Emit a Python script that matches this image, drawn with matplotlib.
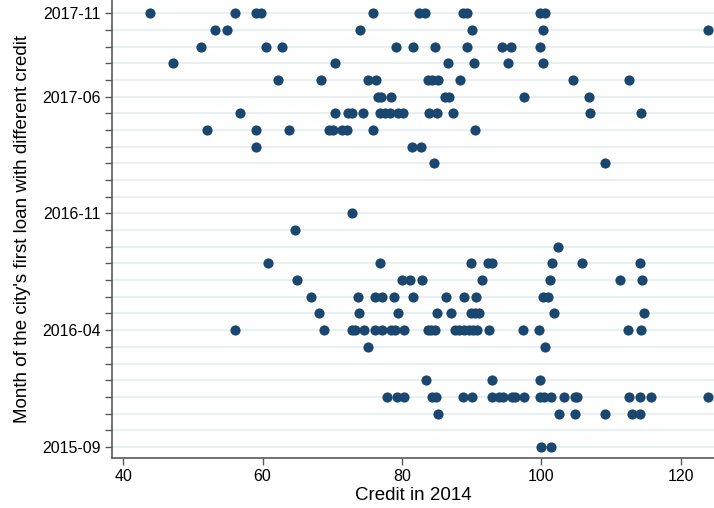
import numpy as np
import pandas as pd
import matplotlib
matplotlib.use("Agg")
import matplotlib.pyplot as plt

plt.rcParams['font.family'] = ['Liberation Sans', 'DejaVu Sans']

months = pd.period_range("2015-09", "2017-11", freq="M").strftime("%Y-%m").tolist()
labelled = ["2015-09", "2016-04", "2016-11", "2017-06", "2017-11"]

# credit in 2014, one list per month of the city's first loan
c_2015_09 = [100.0, 101.4]
c_2015_10 = []
c_2015_11 = [85.2, 102.5, 104.8, 109.1, 113.1, 114.2]
c_2015_12 = [77.8, 79.3, 80.3, 84.3, 84.9, 88.8, 90.0, 92.9, 93.9, 94.5, 95.8, 96.3,
             97.5, 99.8, 100.4, 101.4, 103.2, 104.8, 105.2, 112.6, 114.2, 115.7, 123.9]
c_2016_01 = [83.4, 93.0, 99.8]
c_2016_02 = []
c_2016_03 = [75.1, 100.5]
c_2016_04 = [56.1, 68.8, 72.8, 73.3, 74.6, 76.1, 77.1, 78.5, 79.0, 80.3, 83.7, 84.2,
             84.8, 87.6, 88.2, 88.9, 89.6, 90.2, 90.8, 92.5, 97.4, 99.7, 112.5, 114.3]
c_2016_05 = [68.1, 73.8, 79.4, 85.0, 87.0, 89.9, 90.5, 91.0, 101.9, 114.7]
c_2016_06 = [66.9, 73.7, 76.2, 77.2, 78.9, 81.6, 86.3, 88.9, 90.7, 100.3, 101.0]
c_2016_07 = [65.0, 80.0, 81.1, 82.9, 91.5, 101.3, 111.3, 114.5]
c_2016_08 = [60.8, 76.8, 89.9, 92.4, 92.9, 101.5, 105.9, 114.2]
c_2016_09 = [102.4]
c_2016_10 = [64.6]
c_2016_11 = [72.8]
c_2016_12 = []
c_2017_01 = []
c_2017_02 = [84.6, 109.1]
c_2017_03 = [59.1, 81.4, 82.7]
c_2017_04 = [52.0, 59.1, 63.8, 69.5, 70.1, 71.4, 72.1, 75.8, 90.5]
c_2017_05 = [56.8, 70.4, 72.2, 72.8, 74.4, 76.9, 77.6, 78.3, 79.5, 80.2, 83.9, 85.1,
             87.4, 107.0, 114.3]
c_2017_06 = [76.6, 77.0, 78.4, 86.2, 86.7, 97.5, 106.8]
c_2017_07 = [62.2, 68.4, 75.2, 76.3, 83.7, 84.3, 85.2, 88.4, 104.6, 112.6]
c_2017_08 = [47.2, 70.4, 86.6, 90.3, 95.3, 100.3]
c_2017_09 = [51.2, 60.5, 62.8, 79.1, 81.6, 84.7, 89.4, 94.3, 95.6, 99.8]
c_2017_10 = [53.1, 54.9, 74.0, 90.0, 100.2, 123.9]
c_2017_11 = [43.8, 56.1, 59.0, 59.8, 75.9, 82.4, 83.3, 88.7, 89.3, 99.8, 100.5]

credit = [c_2015_09, c_2015_10, c_2015_11, c_2015_12, c_2016_01, c_2016_02, c_2016_03,
          c_2016_04, c_2016_05, c_2016_06, c_2016_07, c_2016_08, c_2016_09, c_2016_10,
          c_2016_11, c_2016_12, c_2017_01, c_2017_02, c_2017_03, c_2017_04, c_2017_05,
          c_2017_06, c_2017_07, c_2017_08, c_2017_09, c_2017_10, c_2017_11]

x = []
y = []
for i, vals in enumerate(credit):
    x.extend(vals)
    y.extend([i] * len(vals))

fig = plt.figure(figsize=(7.14, 5.08), dpi=100)
ax = fig.add_axes([0.157, 0.098, 0.843, 0.902])

ax.scatter(x, y, s=54, color="#1a476f", zorder=3, linewidths=0)

ax.set_xlim(38.4, 124.8)
ax.set_ylim(-0.68, 26.8)

ax.set_xticks([40, 60, 80, 100, 120])
ax.set_yticks([months.index(m) for m in labelled])
ax.set_yticklabels(labelled)
ax.set_yticks(range(len(months)), minor=True)

ax.grid(axis="y", which="both", color="#e8f0f2", linewidth=1.5, zorder=0)
ax.set_axisbelow(True)

for side in ["top", "right"]:
    ax.spines[side].set_visible(False)
for side in ["left", "bottom"]:
    ax.spines[side].set_color("#5a5a5a")
    ax.spines[side].set_linewidth(1.2)

ax.tick_params(axis="both", which="both", length=5, width=1, color="#5a5a5a",
               labelsize=11.5, pad=3)

ax.set_xlabel("Credit in 2014", fontsize=13.5, labelpad=2)
ax.set_ylabel("Month of the city's first loan with different credit", fontsize=13.5, labelpad=8)

fig.savefig("out.png", dpi=100)
